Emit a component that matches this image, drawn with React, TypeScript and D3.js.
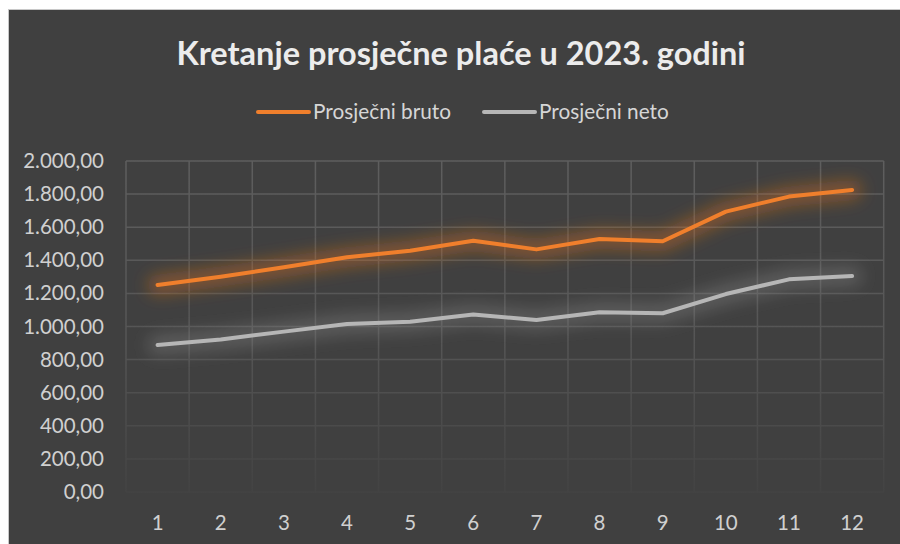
import React from "react";
import * as d3 from "d3";

const months = ["1", "2", "3", "4", "5", "6", "7", "8", "9", "10", "11", "12"];
const bruto = [1251, 1301, 1358, 1418, 1458, 1518, 1466, 1529, 1515, 1694, 1785, 1825];
const neto = [888, 922, 969, 1015, 1029, 1073, 1039, 1086, 1080, 1196, 1285, 1305];
const yTicks = [0, 200, 400, 600, 800, 1000, 1200, 1400, 1600, 1800, 2000];
const seriesNames = ["Prosječni bruto", "Prosječni neto"];
const title = "Kretanje prosječne plaće u 2023. godini";

const W = 900;
const H = 544;
const plot = { left: 126, right: 883.7, top: 161, bottom: 492 };
const colors = ["#F07F2C", "#B6B6B6"];
const glowColors = ["#E0701C", "#8E8E8E"];
const glowOpacity = [0.4, 0.35];
const FONT = "Lato, 'Open Sans', sans-serif";

const fmt = (v: number) => {
  const s = v.toFixed(2).split(".");
  const int = s[0].replace(/\B(?=(\d{3})+(?!\d))/g, ".");
  return int + "," + s[1];
};

export default function App() {
  const x = d3.scaleBand<string>().domain(months).range([plot.left, plot.right]);
  const y = d3.scaleLinear().domain([0, 2000]).range([plot.bottom, plot.top]);
  const cx = (m: string) => (x(m) as number) + x.bandwidth() / 2;
  const line = d3
    .line<number>()
    .x((_, i) => cx(months[i]))
    .y((d) => y(d));
  const series = [bruto, neto];
  const vLines = months.map((m) => x(m) as number).concat([plot.right]);

  return (
    <div style={{ position: "fixed", left: 0, top: 0 }}>
      <svg width={W} height={H} style={{ display: "block" }}>
        <defs>
          <linearGradient id="gridGrad" gradientUnits="userSpaceOnUse" x1="0" y1={plot.top} x2="0" y2={plot.bottom}>
            <stop offset="0" stopColor="#5e5e5e" />
            <stop offset="0.55" stopColor="#555555" />
            <stop offset="1" stopColor="#434343" />
          </linearGradient>
          <filter id="glow" x="-20%" y="-80%" width="140%" height="260%">
            <feGaussianBlur stdDeviation="8" />
          </filter>
        </defs>
        <rect x={0} y={0} width={W} height={H} fill="#ffffff" />
        <rect x={8.5} y={9.5} width={W} height={H} fill="#404040" stroke="#c8c8c8" strokeWidth={1} />

        <text x={461} y={65} textAnchor="middle" fontFamily={FONT} fontWeight={700} fontSize={32.5} fill="#ececec">
          {title}
        </text>

        {/* legend */}
        {seriesNames.map((name, i) => {
          const lx = i === 0 ? 258 : 484;
          return (
            <g key={name}>
              <line x1={lx} x2={lx + 51} y1={112} y2={112} stroke={colors[i]} strokeWidth={4} strokeLinecap="round" />
              <text x={lx + 55} y={119} fontFamily={FONT} fontSize={20.8} fill="#d6d6d6">
                {name}
              </text>
            </g>
          );
        })}

        {/* gridlines */}
        {yTicks.map((t) => (
          <line key={"h" + t} x1={plot.left} x2={plot.right} y1={y(t)} y2={y(t)} stroke="url(#gridGrad)" strokeWidth={1.5} />
        ))}
        {vLines.map((vx, i) => (
          <line key={"v" + i} x1={vx} x2={vx} y1={plot.top} y2={plot.bottom} stroke="url(#gridGrad)" strokeWidth={1.5} />
        ))}

        {/* y labels */}
        {yTicks.map((t) => (
          <text key={"yl" + t} x={104} y={y(t) + 7} textAnchor="end" fontFamily={FONT} fontSize={20.5} fill="#d0d0d0">
            {fmt(t)}
          </text>
        ))}
        {/* x labels */}
        {months.map((m) => (
          <text key={"xl" + m} x={cx(m)} y={530} textAnchor="middle" fontFamily={FONT} fontSize={20.5} fill="#d0d0d0">
            {m}
          </text>
        ))}

        {/* series */}
        {series.map((s, i) => (
          <g key={"s" + i}>
            <path d={line(s) || ""} fill="none" stroke={glowColors[i]} strokeOpacity={glowOpacity[i]} strokeWidth={20} strokeLinecap="round" strokeLinejoin="round" filter="url(#glow)" />
            <path d={line(s) || ""} fill="none" stroke={colors[i]} strokeWidth={4} strokeLinecap="round" strokeLinejoin="round" />
          </g>
        ))}
      </svg>
    </div>
  );
}
